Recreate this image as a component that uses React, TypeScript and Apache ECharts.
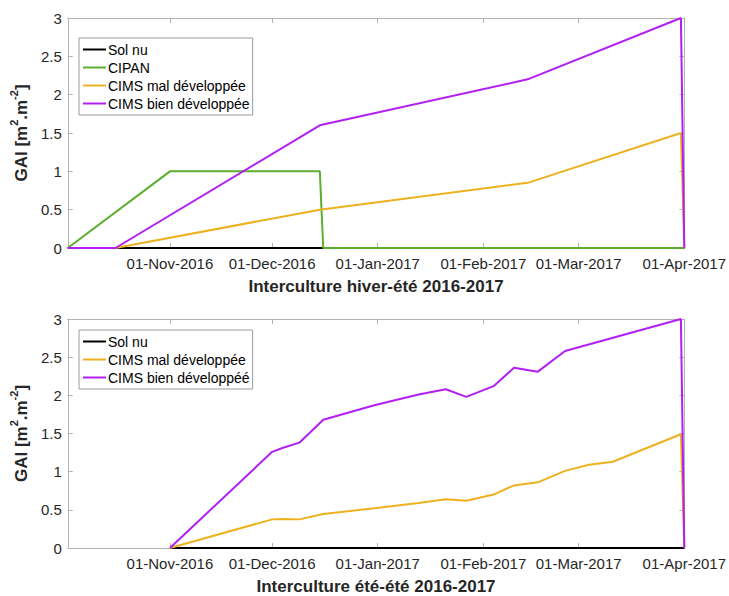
import React, { useEffect, useRef } from "react";
import * as echarts from "echarts";

const d = (y: number, m: number, day: number) => new Date(y, m - 1, day).getTime();

const X_MIN = d(2016, 10, 2);
const X_MAX = d(2017, 4, 1);
const MONTHS = ["Jan", "Feb", "Mar", "Apr", "May", "Jun", "Jul", "Aug", "Sep", "Oct", "Nov", "Dec"];
const Y_TICKS = [0, 0.5, 1, 1.5, 2, 2.5, 3];

// ---- Top panel: Interculture hiver-été 2016-2017 ----
const topSolNuDates = [d(2016, 10, 2), d(2017, 4, 1)];
const topSolNuValues = [0, 0];
const topCipanDates = [d(2016, 10, 2), d(2016, 11, 1), d(2016, 12, 15), d(2016, 12, 16), d(2017, 4, 1)];
const topCipanValues = [0, 1, 1, 0, 0];
const topMalDates = [d(2016, 10, 2), d(2016, 10, 16), d(2016, 12, 15), d(2017, 2, 14), d(2017, 3, 31), d(2017, 4, 1)];
const topMalValues = [0, 0, 0.5, 0.85, 1.5, 0];
const topBienDates = [d(2016, 10, 2), d(2016, 10, 16), d(2016, 12, 15), d(2017, 2, 14), d(2017, 3, 31), d(2017, 4, 1)];
const topBienValues = [0, 0, 1.6, 2.2, 3.0, 0];

// ---- Bottom panel: Interculture été-été 2016-2017 ----
const botSolNuDates = [d(2016, 11, 1), d(2017, 4, 1)];
const botSolNuValues = [0, 0];
const botMalDates = [
  d(2016, 11, 1), d(2016, 12, 1), d(2016, 12, 4), d(2016, 12, 9), d(2016, 12, 16), d(2016, 12, 31),
  d(2017, 1, 13), d(2017, 1, 21), d(2017, 1, 27), d(2017, 2, 4), d(2017, 2, 10), d(2017, 2, 17),
  d(2017, 2, 25), d(2017, 3, 4), d(2017, 3, 11), d(2017, 3, 31), d(2017, 4, 1),
];
const botMalValues = [0, 0.375, 0.38, 0.375, 0.445, 0.52, 0.59, 0.64, 0.62, 0.7, 0.82, 0.86, 1.01, 1.09, 1.13, 1.49, 0];
const botBienDates = [
  d(2016, 11, 1), d(2016, 12, 1), d(2016, 12, 4), d(2016, 12, 9), d(2016, 12, 16), d(2016, 12, 31),
  d(2017, 1, 13), d(2017, 1, 21), d(2017, 1, 27), d(2017, 2, 4), d(2017, 2, 10), d(2017, 2, 17),
  d(2017, 2, 25), d(2017, 3, 31), d(2017, 4, 1),
];
const botBienValues = [0, 1.26, 1.31, 1.38, 1.68, 1.87, 2.01, 2.08, 1.98, 2.12, 2.36, 2.31, 2.58, 3.0, 0];

const NAME_SOL = "Sol nu";
const NAME_CIPAN = "CIPAN";
const NAME_MAL = "CIMS mal développée";
const NAME_BIEN_TOP = "CIMS bien développée";
const NAME_BIEN_BOT = "CIMS bien développéé";
const X_TITLE_TOP = "Interculture hiver-été 2016-2017";
const X_TITLE_BOT = "Interculture été-été 2016-2017";

const C_BLACK = "#000000";
const C_GREEN = "#5BAE2E";
const C_ORANGE = "#EDB120";
const C_PURPLE = "#B31EF5";
const C_AXIS = "#b4b4b4";
const C_TEXT = "#262626";
const FONT = "Liberation Sans, Arial, sans-serif";

const zip = (xs: number[], ys: number[]) => xs.map((x, i) => [x, ys[i]]);

const fmtDate = (v: number) => {
  const dt = new Date(v);
  if (dt.getDate() !== 1) return "";
  return "{t|01-" + MONTHS[dt.getMonth()] + "-" + dt.getFullYear() + "}";
};

export default function App() {
  const ref = useRef<HTMLDivElement>(null);
  useEffect(() => {
    if (!ref.current) return;
    const chart = echarts.init(ref.current, undefined, { renderer: "svg" });

    const grids = [
      { left: 64, top: 18, width: 621, height: 230 },
      { left: 64, top: 319, width: 621, height: 232 },
    ];

    const tickText = { fontSize: 15, color: C_TEXT, fontFamily: FONT, fontWeight: "normal" };

    const xBottom = (gi: number, title: string) => ({
      type: "time",
      gridIndex: gi,
      position: "bottom",
      min: X_MIN,
      max: X_MAX,
      minInterval: 28 * 86400000,
      maxInterval: 31 * 86400000,
      axisLine: { show: true, onZero: false, lineStyle: { color: C_AXIS, width: 1 } },
      axisTick: { show: true, inside: true, length: 5, lineStyle: { color: C_AXIS } },
      axisLabel: {
        show: true,
        formatter: fmtDate,
        ...tickText,
        rich: { t: tickText },
        margin: 8,
        showMinLabel: false,
        hideOverlap: false,
      },
      splitLine: { show: false },
      name: title,
      nameLocation: "middle",
      nameGap: 30,
      nameTextStyle: { fontSize: 17, fontWeight: "bold", color: C_TEXT, fontFamily: FONT },
    });
    const xTop = (gi: number) => ({
      type: "time",
      gridIndex: gi,
      position: "top",
      min: X_MIN,
      max: X_MAX,
      minInterval: 28 * 86400000,
      maxInterval: 31 * 86400000,
      axisLine: { show: true, onZero: false, lineStyle: { color: C_AXIS, width: 1 } },
      axisTick: { show: true, inside: true, length: 5, lineStyle: { color: C_AXIS } },
      axisLabel: { show: false },
      splitLine: { show: false },
    });
    const yLeft = (gi: number) => ({
      type: "value",
      gridIndex: gi,
      position: "left",
      min: Y_TICKS[0],
      max: Y_TICKS[Y_TICKS.length - 1],
      interval: Y_TICKS[1] - Y_TICKS[0],
      axisLine: { show: true, lineStyle: { color: C_AXIS, width: 1 } },
      axisTick: { show: true, inside: true, length: 5, lineStyle: { color: C_AXIS } },
      axisLabel: { color: C_TEXT, fontSize: 15, fontFamily: FONT, margin: 6 },
      splitLine: { show: false },
      name: "{n|GAI [m}{s|2}{n|.m}{s|-2}{n|]}",
      nameLocation: "middle",
      nameGap: 28,
      nameTextStyle: {
        rich: {
          n: { fontSize: 17, fontWeight: "bold", color: C_TEXT, fontFamily: FONT, lineHeight: 22, verticalAlign: "bottom" },
          s: { fontSize: 11, fontWeight: "bold", color: C_TEXT, fontFamily: FONT, lineHeight: 13, verticalAlign: "top" },
        },
      },
    });
    const yRight = (gi: number) => ({
      type: "value",
      gridIndex: gi,
      position: "right",
      min: Y_TICKS[0],
      max: Y_TICKS[Y_TICKS.length - 1],
      interval: Y_TICKS[1] - Y_TICKS[0],
      axisLine: { show: true, lineStyle: { color: C_AXIS, width: 1 } },
      axisTick: { show: true, inside: true, length: 5, lineStyle: { color: C_AXIS } },
      axisLabel: { show: false },
      splitLine: { show: false },
    });

    const line = (name: string, xi: number, yi: number, data: number[][], color: string) => ({
      type: "line",
      name,
      xAxisIndex: xi,
      yAxisIndex: yi,
      data,
      symbol: "none",
      showSymbol: false,
      color,
      lineStyle: { color, width: 2 },
      emphasis: { disabled: true },
    });

    const legendBase = {
      orient: "vertical",
      left: 79,
      icon: "rect",
      itemWidth: 23,
      itemHeight: 2,
      itemGap: 3,
      padding: [4, 3, 4, 4],
      borderColor: "#9a9a9a",
      borderWidth: 1,
      backgroundColor: "#ffffff",
      textStyle: { fontSize: 14, color: "#000", fontFamily: FONT, lineHeight: 15, padding: [0, 0, 0, -3] },
      selectedMode: false,
    };

    chart.setOption({
      animation: false,
      backgroundColor: "#ffffff",
      grid: grids,
      xAxis: [xBottom(0, X_TITLE_TOP), xTop(0), xBottom(1, X_TITLE_BOT), xTop(1)],
      yAxis: [yLeft(0), yRight(0), yLeft(1), yRight(1)],
      legend: [
        { ...legendBase, top: 38, data: [NAME_SOL, NAME_CIPAN, NAME_MAL, NAME_BIEN_TOP] },
        { ...legendBase, top: 330, data: [NAME_SOL, NAME_MAL, NAME_BIEN_BOT] },
      ],
      series: [
        line(NAME_SOL, 0, 0, zip(topSolNuDates, topSolNuValues), C_BLACK),
        line(NAME_CIPAN, 0, 0, zip(topCipanDates, topCipanValues), C_GREEN),
        line(NAME_MAL, 0, 0, zip(topMalDates, topMalValues), C_ORANGE),
        line(NAME_BIEN_TOP, 0, 0, zip(topBienDates, topBienValues), C_PURPLE),
        line(NAME_SOL, 2, 2, zip(botSolNuDates, botSolNuValues), C_BLACK),
        line(NAME_MAL, 2, 2, zip(botMalDates, botMalValues), C_ORANGE),
        line(NAME_BIEN_BOT, 2, 2, zip(botBienDates, botBienValues), C_PURPLE),
      ],
    });
    return () => chart.dispose();
  }, []);
  return (
    <div
      ref={ref}
      style={{ position: "fixed", left: 0, top: 0, width: 729, height: 596, background: "#fff" }}
    />
  );
}
